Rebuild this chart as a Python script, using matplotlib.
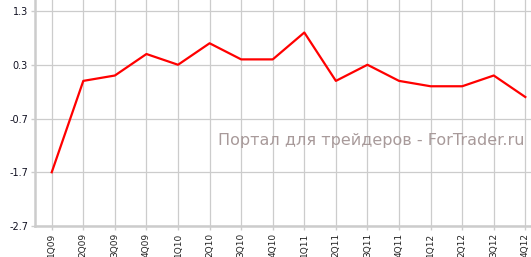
import matplotlib
matplotlib.use("Agg")
import matplotlib.pyplot as plt

quarters = ["1Q09", "2Q09", "3Q09", "4Q09", "1Q10", "2Q10", "3Q10", "4Q10",
            "1Q11", "2Q11", "3Q11", "4Q11", "1Q12", "2Q12", "3Q12", "4Q12"]
values = [-1.7, 0.0, 0.1, 0.5, 0.3, 0.7, 0.4, 0.4,
          0.9, 0.0, 0.3, 0.0, -0.1, -0.1, 0.1, -0.3]
yticks = [-2.7, -1.7, -0.7, 0.3, 1.3]

fig = plt.figure(figsize=(5.31, 2.57), dpi=100)
ax = fig.add_axes([35 / 531, 1 - 226 / 257, 1 - 35 / 531, 226 / 257])

x = list(range(len(quarters)))
ax.plot(x, values, color="#ff0000", lw=1.6, zorder=3)

ax.set_xlim(-0.53, 15.18)
ax.set_ylim(-2.7, 1.505)
ax.set_xticks(x)
ax.set_xticklabels(quarters, rotation=90, fontsize=6.5, color="#222222")
ax.set_yticks(yticks)
ax.set_yticklabels([str(v) for v in yticks], fontsize=7, color="#111122")
ax.grid(True, color="#cccccc", lw=0.9)
ax.tick_params(axis="both", length=3, width=1, color="#cccccc", pad=2)

for s in ("top", "right"):
    ax.spines[s].set_visible(False)
for s in ("left", "bottom"):
    ax.spines[s].set_color("#cccccc")
    ax.spines[s].set_linewidth(1.8)

fig.text(525 / 531, 1 - 145 / 257, "Портал для трейдеров - ForTrader.ru",
         ha="right", va="baseline", fontsize=11.5, color="#a89a9a")

fig.savefig("out.png", dpi=100)
